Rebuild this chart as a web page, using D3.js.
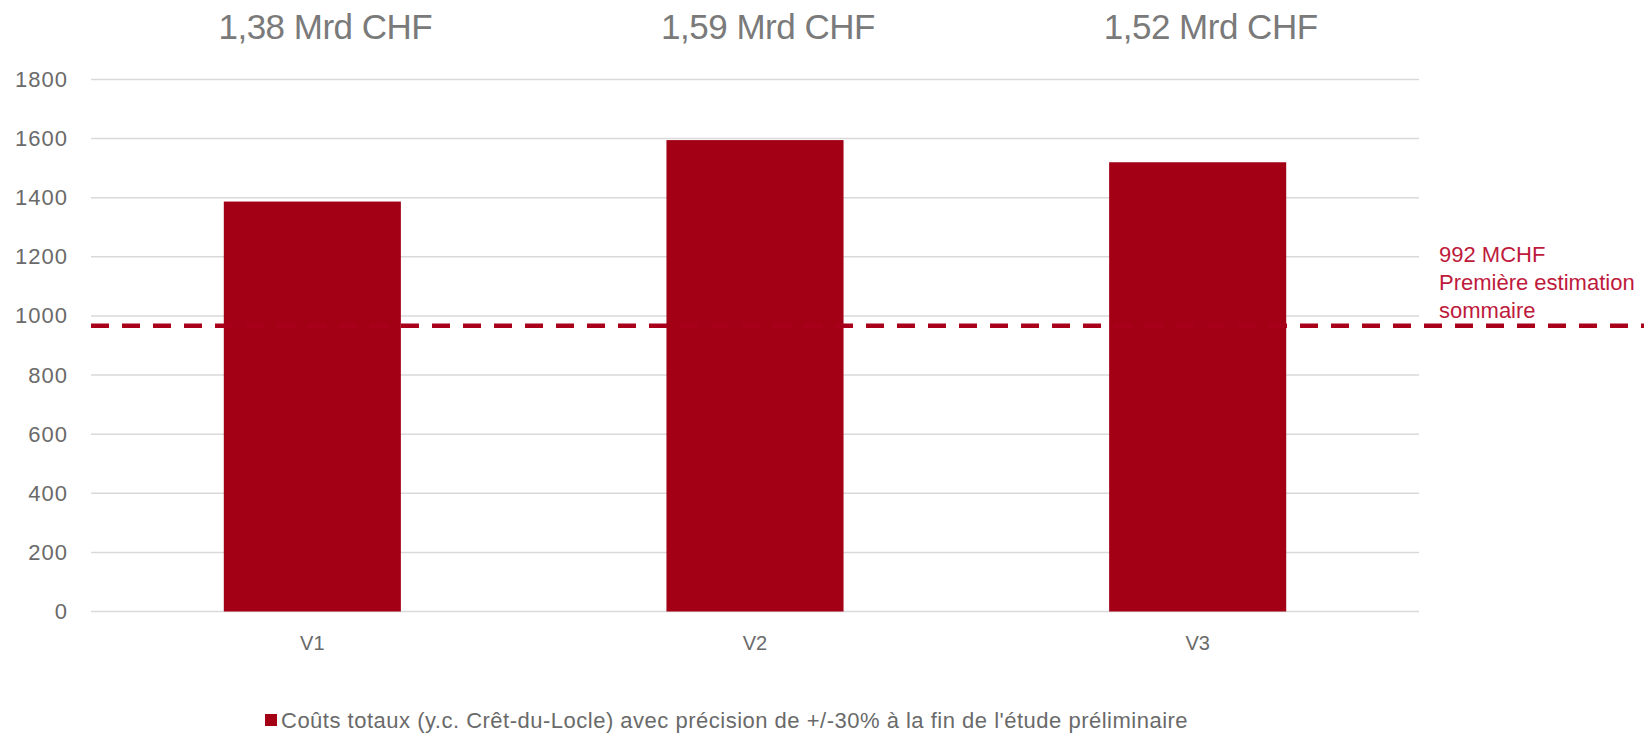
<!DOCTYPE html>
<html>
<head>
<meta charset="utf-8">
<script src="https://cdn.jsdelivr.net/npm/d3@7"></script>
<style>
  html, body { margin: 0; padding: 0; background: #fff; }
  svg { display: block; font-family: "Liberation Sans", Arial, Helvetica, sans-serif; }
</style>
</head>
<body>
<svg id="chart" width="1644" height="734"></svg>
<script>
// ---- Data ----
const categories = ["V1", "V2", "V3"];
const values = [1387, 1595, 1520];
const topLabels = ["1,38 Mrd CHF", "1,59 Mrd CHF", "1,52 Mrd CHF"];
const yTicks = [0, 200, 400, 600, 800, 1000, 1200, 1400, 1600, 1800];
const referenceValue = 967;
const referenceLabel = ["992 MCHF", "Première estimation", "sommaire"];
const legendLabel = "Coûts totaux (y.c. Crêt-du-Locle) avec précision de +/-30% à la fin de l'étude préliminaire";

(function () {
// ---- Layout ----
const svg = d3.select("#chart");
const plotLeft = 91, plotRight = 1419, plotTop = 79.5, plotBottom = 611.5;
const barColor = "#A30016";

const x = d3.scaleBand().domain(categories).range([plotLeft, plotRight])
  .paddingInner(0.6).paddingOuter(0.3);
const y = d3.scaleLinear().domain([0, 1800]).range([plotBottom, plotTop]);

// gridlines
svg.append("g").selectAll("line").data(yTicks).join("line")
  .attr("x1", plotLeft).attr("x2", plotRight)
  .attr("y1", d => y(d)).attr("y2", d => y(d))
  .attr("stroke", "#d9d9d9").attr("stroke-width", 1.5);

// y axis labels
const yAxis = d3.axisLeft(y).tickValues(yTicks).tickSize(0).tickPadding(0).tickFormat(d3.format("d"));
const ya = svg.append("g").attr("transform", `translate(68,0)`).call(yAxis);
ya.select(".domain").remove();
ya.selectAll("text").attr("font-size", 22).attr("letter-spacing", 1).attr("fill", "#6a6a6a").attr("font-family", "Liberation Sans, Arial, sans-serif");

// bars
svg.append("g").selectAll("rect").data(values).join("rect")
  .attr("x", (d, i) => x(categories[i]))
  .attr("width", x.bandwidth())
  .attr("y", d => y(d))
  .attr("height", d => y(0) - y(d))
  .attr("fill", barColor);

// x axis labels
const xAxis = d3.axisBottom(x).tickSize(0).tickPadding(0);
const xa = svg.append("g").attr("transform", `translate(0,636)`).call(xAxis);
xa.select(".domain").remove();
xa.selectAll("text").attr("font-size", 20).attr("fill", "#6a6a6a").attr("dy", "0.72em").attr("font-family", "Liberation Sans, Arial, sans-serif");

// top labels
svg.append("g").selectAll("text").data(topLabels).join("text")
  .attr("x", (d, i) => x(categories[i]) + x.bandwidth() / 2 + 13)
  .attr("y", 39)
  .attr("text-anchor", "middle")
  .attr("font-size", 35)
  .attr("letter-spacing", -0.5)
  .attr("fill", "#7a7a7a")
  .text(d => d);

// reference dashed line
svg.append("line")
  .attr("x1", plotLeft).attr("x2", 1644)
  .attr("y1", y(referenceValue)).attr("y2", y(referenceValue))
  .attr("stroke", "#A8001A").attr("stroke-width", 4.5)
  .attr("stroke-dasharray", "18,13");

// reference annotation
svg.append("g").selectAll("text").data(referenceLabel).join("text")
  .attr("x", 1439)
  .attr("y", (d, i) => 261.5 + i * 28)
  .attr("font-size", 22)
  .attr("fill", "#BE1A3C")
  .text(d => d);

// legend
svg.append("rect").attr("x", 265).attr("y", 714).attr("width", 12).attr("height", 12).attr("fill", barColor);
svg.append("text").attr("x", 281).attr("y", 727.5).attr("font-size", 22).attr("letter-spacing", 0.5).attr("fill", "#6a6a6a").text(legendLabel);
})();
</script>
</body>
</html>
